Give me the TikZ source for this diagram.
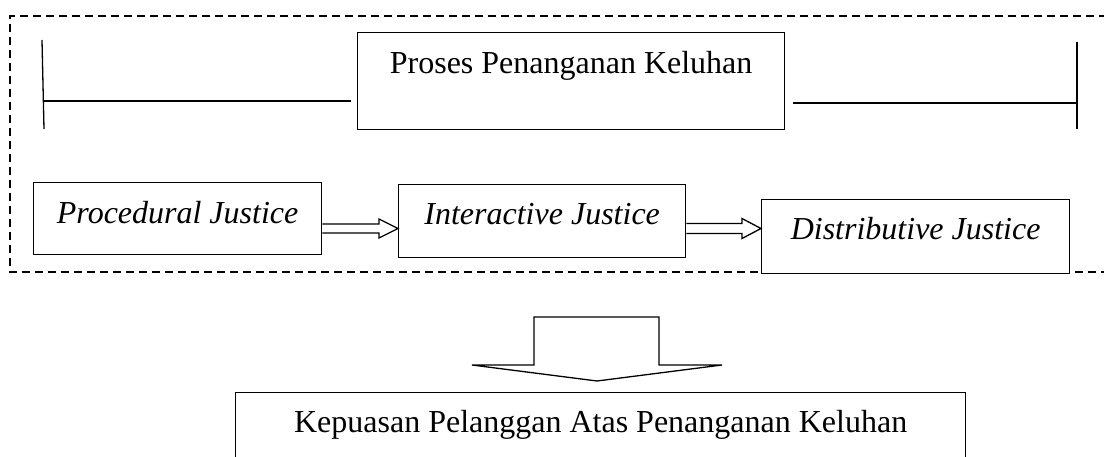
\documentclass[tikz,border=0pt]{standalone}
\usepackage{fontspec}
\setmainfont{Liberation Serif}
\usetikzlibrary{calc}
\begin{document}
\begin{tikzpicture}[x=1pt,y=-1pt,
  rm/.style={font=\fontsize{32}{38}\selectfont},
  it/.style={font=\fontsize{32}{38}\selectfont\itshape},
  box/.style={draw, line width=1.3pt, fill=white, inner sep=0pt, anchor=north west},
  ln/.style={line width=1.3pt},
  blk/.style={draw, line width=1.3pt, fill=white, line join=miter}]
\useasboundingbox (0,0) rectangle (1104,457);
\clip (0,0) rectangle (1104,457);
\draw[ln, dash pattern=on 8pt off 5pt] (1120,16) -- (10,16) -- (10,272) -- (1120,272);
\node[box, rm, minimum width=427pt, text height=41pt, text depth=56pt] (proses) at (357,32) {Proses Penanganan Keluhan};
\node[box, it, minimum width=288pt, text height=41pt, text depth=31pt] (proc) at (33,182) {Procedural Justice};
\node[box, it, minimum width=287pt, text height=40pt, text depth=33pt] (inter) at (398,184) {Interactive Justice};
\node[box, it, minimum width=308pt, text height=40pt, text depth=34pt] (dist) at (761,199) {Distributive Justice};
\node[box, rm, minimum width=730pt, text height=40pt, text depth=60pt] (kep) at (235,392) {Kepuasan Pelanggan Atas Penanganan Keluhan};
% bracket lines
\draw[ln] (42,40) -- (44,129);
\draw[ln] (44,101) -- ($(proses.west |- 0,101)+(-6,0)$);
\draw[ln] ($(proses.east |- 0,103)+(8,0)$) -- (1076,103);
\draw[ln] (1077,42) -- (1077,129);
% block arrows
\draw[blk] (proc.east |- 0,224) -- ($(inter.west |- 0,224)+(-19,0)$) -- ($(inter.west |- 0,219)+(-19,0)$) -- (inter.west |- 0,228.5) -- ($(inter.west |- 0,238)+(-19,0)$) -- ($(inter.west |- 0,233)+(-19,0)$) -- (proc.east |- 0,233);
\draw[blk] (inter.east |- 0,223.5) -- ($(dist.west |- 0,223.5)+(-19,0)$) -- ($(dist.west |- 0,218.5)+(-19,0)$) -- (dist.west |- 0,228.5) -- ($(dist.west |- 0,238.5)+(-19,0)$) -- ($(dist.west |- 0,233.5)+(-19,0)$) -- (inter.east |- 0,233.5);
\draw[blk] (534,317) -- (659,317) -- (659,365) -- (722,365) -- (597,381) -- (472,365) -- (534,365) -- cycle;
\end{tikzpicture}
\end{document}
